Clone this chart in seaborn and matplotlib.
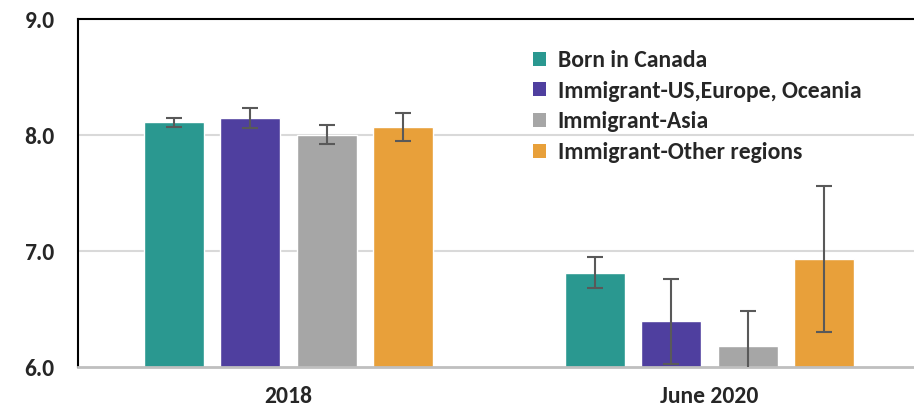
import matplotlib
matplotlib.use("Agg")
import matplotlib.pyplot as plt
from matplotlib.patches import Patch
import seaborn as sns
import pandas as pd

periods = ["2018", "June 2020"]
groups = ["Born in Canada", "Immigrant-US,Europe, Oceania", "Immigrant-Asia", "Immigrant-Other regions"]
colors = ["#2A9890", "#4F3F9F", "#A6A6A6", "#E8A03A"]

# values per group: [2018, June 2020]
born_canada = [8.11, 6.81]
imm_us_eu_oc = [8.15, 6.40]
imm_asia = [8.00, 6.18]
imm_other = [8.07, 6.93]

# error bar lower / upper bounds per group: [2018, June 2020]
low_bounds = [[8.07, 6.68], [8.06, 6.03], [7.92, 5.88], [7.95, 6.30]]
high_bounds = [[8.145, 6.95], [8.23, 6.76], [8.086, 6.48], [8.19, 7.56]]

yticks = [6.0, 7.0, 8.0, 9.0]

values = [born_canada, imm_us_eu_oc, imm_asia, imm_other]
rows = []
for g, vals in zip(groups, values):
    for p, v in zip(periods, vals):
        rows.append({"period": p, "group": g, "value": v})
df = pd.DataFrame(rows)

sns.set_theme(style="white")
plt.rcParams["font.family"] = ["Carlito", "DejaVu Sans"]

fig = plt.figure(figsize=(9.14, 4.07), dpi=100)
ax = fig.add_axes([78 / 914, 1 - 367 / 407, 842 / 914, (367 - 19) / 407])

sns.barplot(data=df, x="period", y="value", hue="group", order=periods, hue_order=groups,
            palette=colors, width=0.727, gap=0.21, errorbar=None, ax=ax, legend=False,
            saturation=1, zorder=2)

ax.set_ylim(6, 9)
ax.set_xlim(-0.5, 1.5)

# error bars placed at bar centers
for gi, g in enumerate(groups):
    for pi, p in enumerate(periods):
        patch = ax.patches[gi * len(periods) + pi]
        xc = patch.get_x() + patch.get_width() / 2
        v = values[gi][pi]
        lo = v - low_bounds[gi][pi]
        hi = high_bounds[gi][pi] - v
        ax.errorbar(xc, v, yerr=[[lo], [hi]], fmt="none", ecolor="#595959",
                    elinewidth=1.5, capsize=6, capthick=1.5, zorder=3, clip_on=True)

ax.set_yticks(yticks)
ax.set_yticklabels([f"{t:.1f}" for t in yticks], fontsize=17, fontweight="bold")
ax.set_xticks(range(len(periods)))
ax.set_xticklabels(periods, fontsize=17, fontweight="bold")
ax.tick_params(axis="y", length=0, pad=17)
ax.tick_params(axis="x", length=0, pad=14)
ax.set_xlabel("")
ax.set_ylabel("")

for yv in [7.0, 8.0]:
    ax.axhline(yv, color="#D9D9D9", lw=1.5, zorder=1)

ax.spines["right"].set_visible(False)
ax.spines["top"].set_color("black")
ax.spines["top"].set_linewidth(1.5)
ax.spines["left"].set_color("black")
ax.spines["left"].set_linewidth(1.5)
ax.spines["bottom"].set_color("#BFBFBF")
ax.spines["bottom"].set_linewidth(2)

handles = [Patch(facecolor=c, edgecolor="none") for c in colors]
leg = fig.legend(handles, groups, loc="upper left", bbox_to_anchor=(533 / 914, 1 - 50 / 407),
                 frameon=False, prop={"size": 17, "weight": "bold"}, handlelength=0.55,
                 handleheight=0.55, handletextpad=0.5, labelspacing=0.41, borderpad=0,
                 borderaxespad=0)

fig.savefig("out.png", dpi=100)
